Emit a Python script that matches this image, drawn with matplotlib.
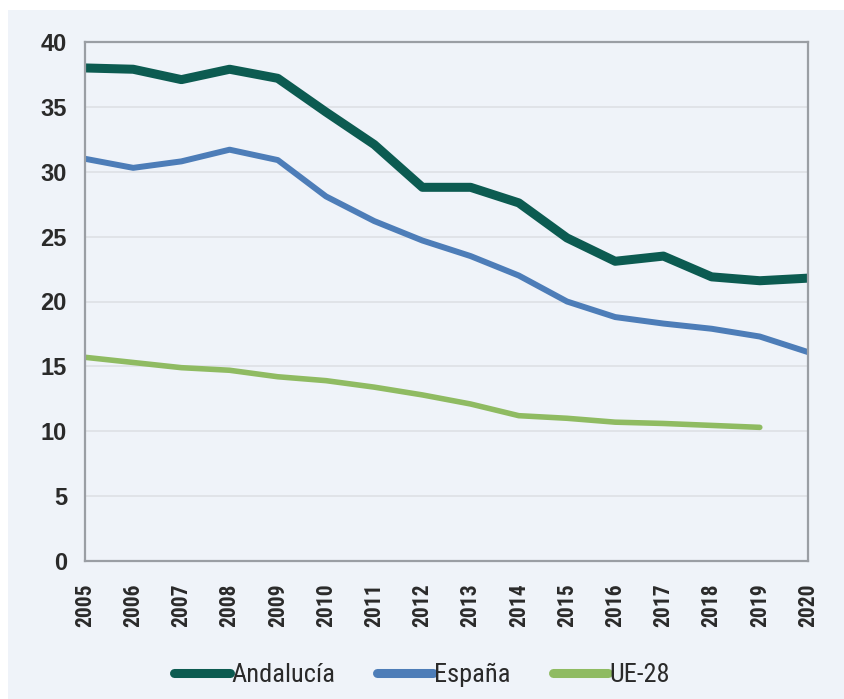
import matplotlib
matplotlib.use("Agg")
import matplotlib.pyplot as plt
from matplotlib.patches import Rectangle
from matplotlib import font_manager

years = list(range(2005, 2021))
andalucia = [38.0, 37.9, 37.1, 37.9, 37.2, 34.6, 32.1, 28.8, 28.8, 27.6, 24.9, 23.1, 23.5, 21.9, 21.6, 21.8]
espana = [31.0, 30.3, 30.8, 31.7, 30.9, 28.1, 26.2, 24.7, 23.5, 22.0, 20.0, 18.8, 18.3, 17.9, 17.3, 16.1]
ue28_years = list(range(2005, 2020))
ue28 = [15.7, 15.3, 14.9, 14.7, 14.2, 13.9, 13.4, 12.8, 12.1, 11.2, 11.0, 10.7, 10.6, 10.45, 10.3]

series_names = ["Andalucía", "España", "UE-28"]
colors = ["#0c5b51", "#4d7db8", "#8fbb62"]
widths = [6.5, 4.3, 4.0]

available = {f.name for f in font_manager.fontManager.ttflist}
narrow = "Roboto"
for cand in ["Roboto Condensed", "Liberation Sans Narrow"]:
    if cand in available:
        narrow = cand
        break

bg = "#eff3f9"
fig = plt.figure(figsize=(8.44, 6.99), dpi=100, facecolor="white")
fig.patches.append(Rectangle((8 / 844, 0), 1, 1 - 10 / 699, transform=fig.transFigure,
                             facecolor=bg, edgecolor="none", zorder=-10))

ax = fig.add_axes([85 / 844, 1 - 561 / 699, (808 - 85) / 844, (561 - 42) / 699])
ax.set_facecolor(bg)

ax.plot(years, andalucia, color=colors[0], lw=widths[0], label=series_names[0],
        solid_capstyle="butt", solid_joinstyle="round")
ax.plot(years, espana, color=colors[1], lw=widths[1], label=series_names[1],
        solid_capstyle="butt", solid_joinstyle="round")
ax.plot(ue28_years, ue28, color=colors[2], lw=widths[2], label=series_names[2],
        solid_capstyle="round", solid_joinstyle="round")

ax.set_xlim(2005, 2020)
ax.set_ylim(0, 40)
ax.set_yticks(range(0, 41, 5))
ax.set_xticks(years)
ax.set_xticklabels([str(y) for y in years], rotation=90, fontfamily=narrow,
                   fontsize=15.5, fontweight="bold", color="#2a2a2a")
for lbl in ax.get_yticklabels():
    lbl.set_fontfamily("Liberation Sans")
    lbl.set_fontsize(17)
    lbl.set_fontweight("bold")
    lbl.set_color("#2a2a2a")
ax.tick_params(axis="both", length=0)
ax.tick_params(axis="y", pad=13)
ax.tick_params(axis="x", pad=16)

ax.grid(axis="y", color="#dcdfe4", lw=1.1)
ax.set_axisbelow(True)
for s in ax.spines.values():
    s.set_color("#9a9ea4")
    s.set_linewidth(1.6)

leg = fig.legend(loc="center", bbox_to_anchor=(0.5, 1 - 675 / 699), ncol=3, frameon=False,
                 handlelength=2.1, handletextpad=0.05, columnspacing=1.6,
                 prop={"family": narrow, "size": 19})
for h in leg.get_lines():
    h.set_solid_capstyle("round")
    h.set_linewidth(6.5)
for t in leg.get_texts():
    t.set_color("#2a2a2a")

fig.savefig("out.png", dpi=100, facecolor="white")
